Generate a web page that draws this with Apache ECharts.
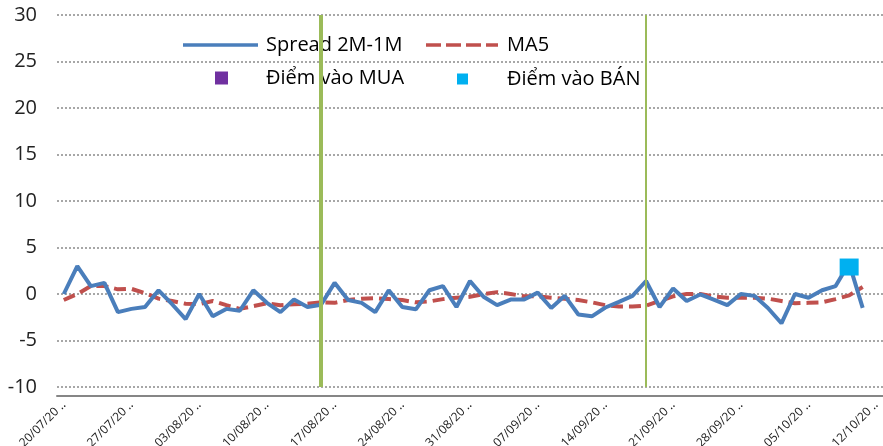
<!DOCTYPE html>
<html>
<head>
<meta charset="utf-8">
<script src="https://cdn.jsdelivr.net/npm/echarts@6.0.0/dist/echarts.min.js"></script>
<style>
    body { margin: 0; background: #fff; }
    #chart { width: 883px; height: 446px; }
</style>
</head>
<body>
<div id="chart"></div>
<script>
let FONT = '"Open Sans", "Noto Sans", sans-serif';

// ------------------ data ------------------
let dates = [
    '20/07/2020', '21/07/2020', '22/07/2020', '23/07/2020', '24/07/2020',
    '27/07/2020', '28/07/2020', '29/07/2020', '30/07/2020', '31/07/2020',
    '03/08/2020', '04/08/2020', '05/08/2020', '06/08/2020', '07/08/2020',
    '10/08/2020', '11/08/2020', '12/08/2020', '13/08/2020', '14/08/2020',
    '17/08/2020', '18/08/2020', '19/08/2020', '20/08/2020', '21/08/2020',
    '24/08/2020', '25/08/2020', '26/08/2020', '27/08/2020', '28/08/2020',
    '31/08/2020', '01/09/2020', '02/09/2020', '03/09/2020', '04/09/2020',
    '07/09/2020', '08/09/2020', '09/09/2020', '10/09/2020', '11/09/2020',
    '14/09/2020', '15/09/2020', '16/09/2020', '17/09/2020', '18/09/2020',
    '21/09/2020', '22/09/2020', '23/09/2020', '24/09/2020', '25/09/2020',
    '28/09/2020', '29/09/2020', '30/09/2020', '01/10/2020', '02/10/2020',
    '05/10/2020', '06/10/2020', '07/10/2020', '08/10/2020', '09/10/2020',
    '12/10/2020'
];

let spread = [
    0.0, 3.0, 0.85, 1.2, -1.95, -1.6, -1.4, 0.4, -1.1, -2.7,
    0.0, -2.4, -1.6, -1.8, 0.4, -0.95, -1.95, -0.6, -1.4, -1.15,
    1.2, -0.65, -0.95, -1.95, 0.4, -1.4, -1.65, 0.4, 0.85, -1.4,
    1.4, -0.3, -1.2, -0.6, -0.6, 0.15, -1.5, -0.2, -2.2, -2.4,
    -1.45, -0.85, -0.2, 1.4, -1.4, 0.6, -0.75, -0.05, -0.6, -1.2,
    0.0, -0.2, -1.5, -3.15, 0.0, -0.4, 0.4, 0.85, 3.3, -1.5
];

let ma5 = [
    -0.65, 0.0, 0.85, 0.85, 0.5, 0.55, 0.1, -0.5, -0.75, -1.05,
    -1.1, -0.75, -1.2, -1.6, -1.3, -1.0, -1.2, -1.1, -1.05, -0.9,
    -0.95, -0.65, -0.5, -0.45, -0.55, -0.65, -0.9, -0.8, -0.55, -0.4,
    -0.3, 0.0, 0.2, 0.0, -0.25, -0.25, -0.4, -0.5, -0.65, -0.9,
    -1.2, -1.35, -1.35, -1.25, -0.75, -0.25, 0.0, 0.0, -0.25, -0.4,
    -0.4, -0.4, -0.5, -0.75, -1.0, -0.95, -0.9, -0.55, -0.15, 0.75
];

let buyPoints = [];
let sellPoints = [['08/10/2020', 2.9]];

// green vertical markers
let signalDates = ['14/08/2020', '17/09/2020'];
let signalWidths = [4, 2];

let yTicks = {min: -10, max: 30, interval: 5};

// ------------------ legend icons ------------------
let ICON_LINE = 'path://M0,0H75V3.5H0Z';
let ICON_DASH = 'path://M0,0H15V3.5H0Z M20,0H35V3.5H20Z M40,0H55V3.5H40Z M60,0H72V3.5H60Z';
let ICON_SQUARE = 'rect';

// ------------------ chart ------------------
let myChart = echarts.init(document.getElementById('chart'));

function oneLegend(name, icon, left, top, w, h, textPad) {
    return {
        data: [{name: name, icon: icon}],
        left: left,
        top: top,
        padding: 0,
        itemWidth: w,
        itemHeight: h,
        selectedMode: false,
        textStyle: {
            fontFamily: FONT, fontSize: 20, color: '#000',
            padding: [0, 0, 0, textPad]
        }
    };
}

let option = {
    animation: false,
    backgroundColor: '#fff',
    textStyle: {fontFamily: FONT},
    grid: {left: 57, right: 0, top: 15, bottom: 59, containLabel: false, outerBoundsMode: 'none'},
    legend: [
        oneLegend('Spread 2M-1M', ICON_LINE, 183, 35, 75, 3.5, 3),
        oneLegend('MA5', ICON_DASH, 426, 35, 72, 3.5, 4),
        oneLegend('Điểm vào MUA', ICON_SQUARE, 215, 68, 13, 13, 33),
        oneLegend('Điểm vào BÁN', ICON_SQUARE, 457, 69, 11, 11, 34)
    ],
    xAxis: {
        type: 'category',
        data: dates,
        boundaryGap: true,
        offset: 9,
        axisLine: {onZero: false, lineStyle: {color: '#868686', width: 2}},
        axisTick: {interval: 4, length: 4, lineStyle: {color: '#868686', width: 1.5}},
        axisLabel: {
            interval: 4,
            rotate: 45,
            margin: 7,
            fontSize: 12,
            fontFamily: FONT,
            color: '#222',
            formatter: function (v) {
                return v.slice(0, 8) + ' \u2025';
            }
        },
        splitLine: {show: false}
    },
    yAxis: {
        type: 'value',
        min: yTicks.min,
        max: yTicks.max,
        interval: yTicks.interval,
        axisLine: {show: false},
        axisTick: {show: false},
        axisLabel: {fontSize: 20, fontFamily: FONT, color: '#222', margin: 20},
        splitLine: {lineStyle: {color: '#8a8a8a', type: [2, 2], width: 1.5}}
    },
    series: [
        {
            name: 'Spread 2M-1M',
            type: 'line',
            data: spread,
            symbol: 'none',
            color: '#4A7EBB',
            lineStyle: {width: 4, color: '#4A7EBB'},
            z: 3,
            markLine: {
                silent: true,
                symbol: ['none', 'none'],
                label: {show: false},
                lineStyle: {color: '#9BBB59', type: 'solid'},
                data: signalDates.map(function (d, i) {
                    return {xAxis: d, lineStyle: {width: signalWidths[i], color: '#9BBB59', type: 'solid'}};
                })
            }
        },
        {
            name: 'MA5',
            type: 'line',
            data: ma5,
            symbol: 'none',
            color: '#C0504D',
            lineStyle: {width: 4, color: '#C0504D', type: [12, 6]},
            z: 2
        },
        {
            name: 'Điểm vào MUA',
            type: 'scatter',
            data: buyPoints,
            symbol: 'rect',
            symbolSize: 13,
            color: '#7030A0',
            itemStyle: {opacity: 1}
        },
        {
            name: 'Điểm vào BÁN',
            type: 'scatter',
            data: sellPoints,
            symbol: 'rect',
            symbolSize: [19, 17],
            color: '#00B0F0',
            itemStyle: {opacity: 1},
            z: 4
        }
    ]
};

if (option && typeof option === "object") {
    myChart.setOption(option, true);
}
</script>
</body>
</html>
